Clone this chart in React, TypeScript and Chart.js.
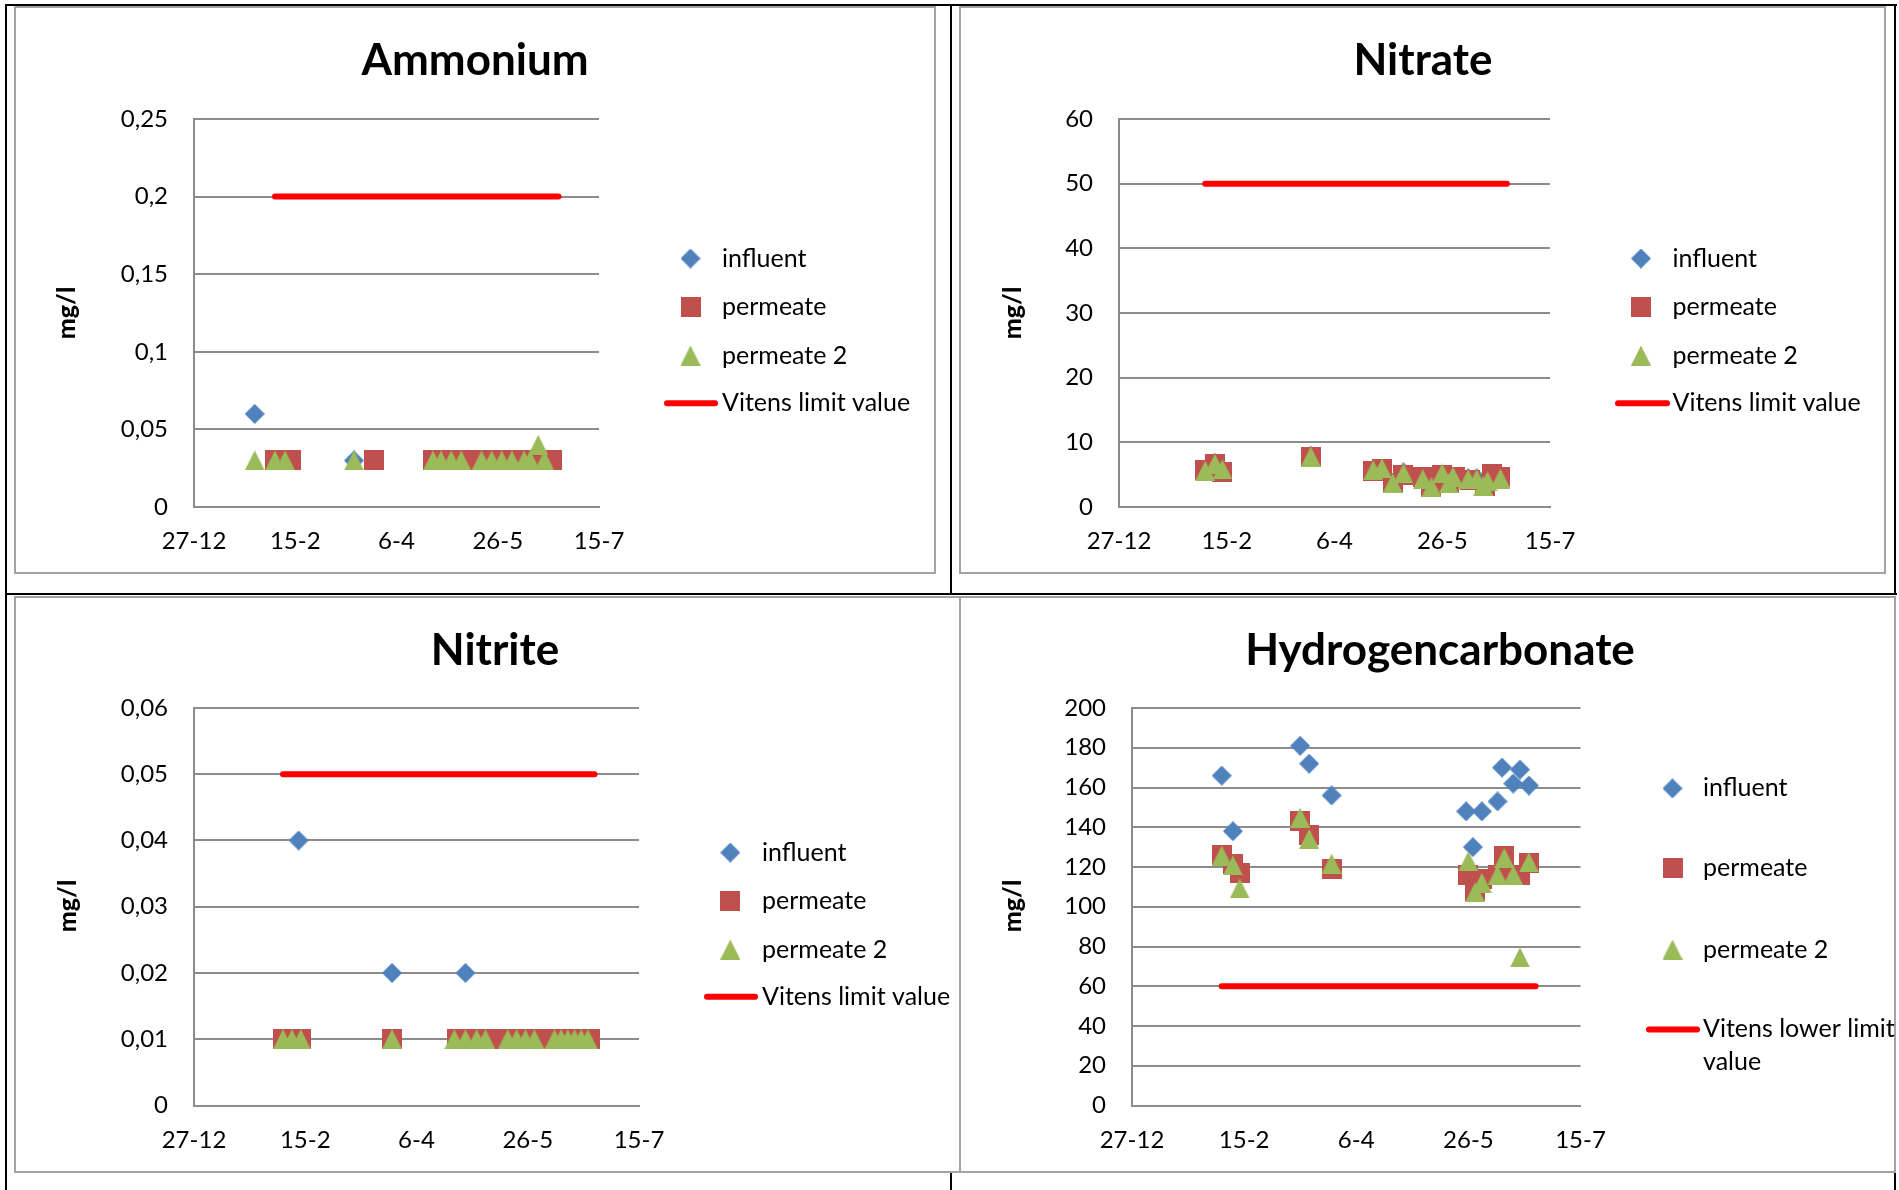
import React, { useEffect, useRef } from 'react';
import { Chart, registerables } from 'chart.js';

Chart.register(...registerables);

// ---------- shared axis data (x = days since 27-12) ----------
const xTickValues = [0, 50, 100, 150, 200];
const xTickLabels = ['27-12', '15-2', '6-4', '26-5', '15-7'];
const seriesNames = ['influent', 'permeate', 'permeate 2'];

// ---------- Ammonium ----------
const ammoniumYTicks = [0, 0.05, 0.1, 0.15, 0.2, 0.25];
const ammoniumYLabels = ['0', '0,05', '0,1', '0,15', '0,2', '0,25'];
const ammoniumInfluentDays = [30, 79];
const ammoniumInfluent = [0.06, 0.03];
const ammoniumPermeateDays = [40, 48, 89, 118, 122, 127, 132, 137, 142, 147, 152, 157, 163, 166, 170, 173, 177];
const ammoniumPermeate = [0.03, 0.03, 0.03, 0.03, 0.03, 0.03, 0.03, 0.03, 0.03, 0.03, 0.03, 0.03, 0.03, 0.03, 0.03, 0.03, 0.03];
const ammoniumPermeate2Days = [30, 40, 45, 79, 118, 122, 127, 132, 142, 147, 152, 157, 163, 166, 170, 173];
const ammoniumPermeate2 = [0.03, 0.03, 0.03, 0.03, 0.03, 0.03, 0.03, 0.03, 0.03, 0.03, 0.03, 0.03, 0.03, 0.03, 0.04, 0.03];
const ammoniumLimitDays = [40, 180];
const ammoniumLimit = [0.2, 0.2];

// ---------- Nitrate ----------
const nitrateYTicks = [0, 10, 20, 30, 40, 50, 60];
const nitrateYLabels = ['0', '10', '20', '30', '40', '50', '60'];
const nitrateInfluentDays = [44.5, 89, 118, 132, 162, 166];
const nitrateInfluent = [6.85, 7.95, 5.85, 5.35, 4.45, 4.45];
const nitratePermeateDays = [40, 44.5, 48, 89, 118, 122, 127, 132, 141, 145, 150, 153, 156, 163, 170, 173, 177];
const nitratePermeate = [5.7, 6.65, 5.45, 7.75, 5.55, 5.9, 3.65, 4.95, 4.6, 3.1, 4.95, 3.65, 4.6, 4.15, 3.3, 5.1, 4.6];
const nitratePermeate2Days = [40, 44.5, 48, 89, 118, 122, 127, 132, 141, 145, 150, 153, 155, 162, 166, 169, 171, 177];
const nitratePermeate2 = [5.6, 6.7, 5.8, 7.8, 5.7, 6.0, 3.7, 5.2, 4.3, 3.1, 5.2, 3.7, 4.7, 4.3, 4.3, 3.3, 4.0, 4.4];
const nitrateLimitDays = [40, 180];
const nitrateLimit = [50, 50];

// ---------- Nitrite ----------
const nitriteYTicks = [0, 0.01, 0.02, 0.03, 0.04, 0.05, 0.06];
const nitriteYLabels = ['0', '0,01', '0,02', '0,03', '0,04', '0,05', '0,06'];
const nitriteInfluentDays = [47, 89, 122];
const nitriteInfluent = [0.04, 0.02, 0.02];
const nitritePermeateDays = [40, 44, 48, 89, 118, 122, 127, 131, 136, 141, 145, 149, 153, 158, 162, 165, 168, 171, 174, 178];
const nitritePermeate = [0.01, 0.01, 0.01, 0.01, 0.01, 0.01, 0.01, 0.01, 0.01, 0.01, 0.01, 0.01, 0.01, 0.01, 0.01, 0.01, 0.01, 0.01, 0.01, 0.01];
const nitritePermeate2Days = [40, 44, 48, 89, 117, 122, 127, 131, 141, 145, 149, 153, 162, 165, 168, 171, 174, 177];
const nitritePermeate2 = [0.01, 0.01, 0.01, 0.01, 0.01, 0.01, 0.01, 0.01, 0.01, 0.01, 0.01, 0.01, 0.01, 0.01, 0.01, 0.01, 0.01, 0.01];
const nitriteLimitDays = [40, 180];
const nitriteLimit = [0.05, 0.05];

// ---------- Hydrogencarbonate ----------
const hco3YTicks = [0, 20, 40, 60, 80, 100, 120, 140, 160, 180, 200];
const hco3YLabels = ['0', '20', '40', '60', '80', '100', '120', '140', '160', '180', '200'];
const hco3InfluentDays = [40, 45, 75, 79, 89, 149, 152, 156, 163, 165, 170, 173, 177];
const hco3Influent = [166, 138, 181, 172, 156, 148, 130, 148, 153, 170, 162, 169, 161];
const hco3PermeateDays = [40, 45, 48, 75, 79, 89, 150, 153, 156, 163, 166, 170, 173, 177];
const hco3Permeate = [126, 121.5, 117, 143, 136, 119, 116, 108, 114, 116, 125.5, 116, 116, 122];
const hco3Permeate2Days = [40, 45, 48, 75, 79, 89, 150, 153, 156, 163, 166, 170, 173, 177];
const hco3Permeate2 = [125.7, 120.8, 109.2, 144.8, 134.2, 121.7, 122.9, 107.3, 112, 115.9, 124.6, 115.9, 74.5, 122.3];
const hco3LimitDays = [40, 180];
const hco3Limit = [60, 60];

// ---------- styles ----------
const COLORS = ['#4F81BD', '#C0504D', '#9BBB59'];
const LIMIT_COLOR = '#FF0000';
const GRID = '#8C8C8C';
const BOX_BORDER = '#A3A3A3';
const FONT = 'Lato';
const Y_AXIS_W = 100;
const X_AXIS_H = 60;

function makeMarker(kind: string, color: string): HTMLCanvasElement {
  const c = document.createElement('canvas');
  c.width = 20;
  c.height = 20;
  const ctx = c.getContext('2d') as CanvasRenderingContext2D;
  ctx.fillStyle = color;
  ctx.beginPath();
  if (kind === 'diamond') {
    ctx.moveTo(10, 0); ctx.lineTo(20, 10); ctx.lineTo(10, 20); ctx.lineTo(0, 10);
  } else if (kind === 'square') {
    ctx.rect(0, 0, 20, 20);
  } else {
    ctx.moveTo(10, 0); ctx.lineTo(20, 20); ctx.lineTo(0, 20);
  }
  ctx.closePath();
  ctx.fill();
  return c;
}

const markers = [makeMarker('diamond', COLORS[0]), makeMarker('square', COLORS[1]), makeMarker('triangle', COLORS[2])];

function pts(days: number[], vals: number[]) {
  return days.map((d, i) => ({ x: d, y: vals[i] }));
}

type Panel = {
  box: { left: number; top: number; width: number; height: number };
  plot: { left: number; top: number; right: number; bottom: number };
  title: string; titleX: number; titleY: number;
  yTitleX: number; yTitleY: number;
  yMax: number; yTicks: number[]; yLabels: string[];
  series: { days: number[]; vals: number[] }[];
  limit: { days: number[]; vals: number[] };
  limitLabel: string[];
  legend: { markerX: number; textX: number; lineX1: number; lineX2: number; rows: number[]; lineGap: number };
};

const panels: Panel[] = [
  {
    box: { left: 14, top: 6, width: 922, height: 568 },
    plot: { left: 194, top: 119, right: 599, bottom: 507 },
    title: 'Ammonium', titleX: 475, titleY: 75,
    yTitleX: 67, yTitleY: 313,
    yMax: 0.25, yTicks: ammoniumYTicks, yLabels: ammoniumYLabels,
    series: [
      { days: ammoniumInfluentDays, vals: ammoniumInfluent },
      { days: ammoniumPermeateDays, vals: ammoniumPermeate },
      { days: ammoniumPermeate2Days, vals: ammoniumPermeate2 },
    ],
    limit: { days: ammoniumLimitDays, vals: ammoniumLimit },
    limitLabel: ['Vitens limit value'],
    legend: { markerX: 690.5, textX: 722, lineX1: 667, lineX2: 715, rows: [258.5, 307, 355.5, 403.3], lineGap: 32 },
  },
  {
    box: { left: 959, top: 6, width: 927, height: 568 },
    plot: { left: 1119, top: 119, right: 1550, bottom: 507 },
    title: 'Nitrate', titleX: 1423, titleY: 75,
    yTitleX: 1013, yTitleY: 313,
    yMax: 60, yTicks: nitrateYTicks, yLabels: nitrateYLabels,
    series: [
      { days: nitrateInfluentDays, vals: nitrateInfluent },
      { days: nitratePermeateDays, vals: nitratePermeate },
      { days: nitratePermeate2Days, vals: nitratePermeate2 },
    ],
    limit: { days: nitrateLimitDays, vals: nitrateLimit },
    limitLabel: ['Vitens limit value'],
    legend: { markerX: 1641, textX: 1672.5, lineX1: 1618, lineX2: 1667, rows: [258.5, 307, 355.5, 403.3], lineGap: 32 },
  },
  {
    box: { left: 14, top: 596, width: 947, height: 577 },
    plot: { left: 194, top: 708, right: 639, bottom: 1105.5 },
    title: 'Nitrite', titleX: 495, titleY: 665,
    yTitleX: 67.5, yTitleY: 906,
    yMax: 0.06, yTicks: nitriteYTicks, yLabels: nitriteYLabels,
    series: [
      { days: nitriteInfluentDays, vals: nitriteInfluent },
      { days: nitritePermeateDays, vals: nitritePermeate },
      { days: nitritePermeate2Days, vals: nitritePermeate2 },
    ],
    limit: { days: nitriteLimitDays, vals: nitriteLimit },
    limitLabel: ['Vitens limit value'],
    legend: { markerX: 730.3, textX: 762, lineX1: 707, lineX2: 755, rows: [852.6, 901, 949.5, 996.7], lineGap: 32 },
  },
  {
    box: { left: 959, top: 596, width: 937, height: 577 },
    plot: { left: 1132, top: 708, right: 1580.5, bottom: 1105.5 },
    title: 'Hydrogencarbonate', titleX: 1440, titleY: 665,
    yTitleX: 1013, yTitleY: 906,
    yMax: 200, yTicks: hco3YTicks, yLabels: hco3YLabels,
    series: [
      { days: hco3InfluentDays, vals: hco3Influent },
      { days: hco3PermeateDays, vals: hco3Permeate },
      { days: hco3Permeate2Days, vals: hco3Permeate2 },
    ],
    limit: { days: hco3LimitDays, vals: hco3Limit },
    limitLabel: ['Vitens lower limit', 'value'],
    legend: { markerX: 1672.5, textX: 1703, lineX1: 1649, lineX2: 1697, rows: [788.4, 868.4, 949.5, 1029.4], lineGap: 32.5 },
  },
];

function makeDeco(p: Panel) {
  return {
    id: 'deco',
    afterDraw(chart: any) {
      const ctx: CanvasRenderingContext2D = chart.ctx;
      const ox = p.box.left;
      const oy = p.box.top;
      ctx.save();
      ctx.fillStyle = '#000';
      // title
      ctx.font = `bold 44px ${FONT}`;
      ctx.textAlign = 'center';
      ctx.textBaseline = 'alphabetic';
      ctx.fillText(p.title, p.titleX - ox, p.titleY - oy);
      // y axis title
      ctx.save();
      ctx.translate(p.yTitleX - ox, p.yTitleY - oy);
      ctx.rotate(-Math.PI / 2);
      ctx.font = `900 25px ${FONT}`;
      ctx.textAlign = 'center';
      ctx.textBaseline = 'middle';
      ctx.fillText('mg/l', 0, 0);
      ctx.restore();
      // legend
      const L = p.legend;
      ctx.font = `25px ${FONT}`;
      ctx.textAlign = 'left';
      ctx.textBaseline = 'middle';
      for (let i = 0; i < 3; i++) {
        const y = L.rows[i] - oy;
        const m = markers[i];
        ctx.drawImage(m, L.markerX - ox - m.width / 2, y - m.height / 2);
        ctx.fillStyle = '#000';
        ctx.fillText(seriesNames[i], L.textX - ox, y);
      }
      const ly = L.rows[3] - oy;
      ctx.strokeStyle = LIMIT_COLOR;
      ctx.lineWidth = 6;
      ctx.lineCap = 'round';
      ctx.beginPath();
      ctx.moveTo(L.lineX1 - ox, ly);
      ctx.lineTo(L.lineX2 - ox, ly);
      ctx.stroke();
      ctx.fillStyle = '#000';
      p.limitLabel.forEach((t, k) => ctx.fillText(t, L.textX - ox, ly + k * L.lineGap));
      ctx.restore();
    },
  };
}

function ChartPanel({ p }: { p: Panel }) {
  const ref = useRef<HTMLCanvasElement>(null);
  useEffect(() => {
    const canvas = ref.current;
    if (!canvas) return;
    const padLeft = p.plot.left - p.box.left - Y_AXIS_W;
    const padTop = p.plot.top - p.box.top;
    const padRight = p.box.left + p.box.width - p.plot.right;
    const padBottom = p.box.top + p.box.height - p.plot.bottom - X_AXIS_H;
    const datasets: any[] = p.series.map((s, i) => ({
      label: seriesNames[i],
      data: pts(s.days, s.vals),
      pointStyle: markers[i],
      pointRadius: 10,
      pointHoverRadius: 10,
      backgroundColor: COLORS[i],
      borderColor: COLORS[i],
      showLine: false,
      order: 4 - i,
    }));
    datasets.push({
      label: p.limitLabel.join(' '),
      data: pts(p.limit.days, p.limit.vals),
      showLine: true,
      pointRadius: 0,
      pointHoverRadius: 0,
      borderColor: LIMIT_COLOR,
      backgroundColor: LIMIT_COLOR,
      borderWidth: 6,
      borderCapStyle: 'round',
      order: 1,
    });
    const chart = new Chart(canvas, {
      type: 'scatter',
      data: { datasets },
      plugins: [makeDeco(p)],
      options: {
        responsive: false,
        animation: false,
        events: [],
        devicePixelRatio: 1,
        layout: { padding: { left: padLeft, top: padTop, right: padRight, bottom: padBottom } },
        plugins: { legend: { display: false }, tooltip: { enabled: false }, title: { display: false } },
        scales: {
          x: {
            type: 'linear',
            min: 0,
            max: 200,
            afterBuildTicks: (s: any) => { s.ticks = xTickValues.map((v) => ({ value: v })); },
            afterFit: (s: any) => { s.height = X_AXIS_H; },
            grid: { display: false, drawTicks: false },
            border: { display: true, color: GRID, width: 2 },
            ticks: {
              padding: 20,
              color: '#000',
              autoSkip: false,
              maxRotation: 0,
              font: { family: FONT, size: 24 },
              callback: (_v: any, i: number) => xTickLabels[i],
            },
          },
          y: {
            type: 'linear',
            min: 0,
            max: p.yMax,
            afterBuildTicks: (s: any) => { s.ticks = p.yTicks.map((v) => ({ value: v })); },
            afterFit: (s: any) => { s.width = Y_AXIS_W; },
            grid: { color: GRID, lineWidth: 2, drawTicks: false },
            border: { display: true, color: GRID, width: 2 },
            ticks: {
              padding: 26,
              color: '#000',
              autoSkip: false,
              font: { family: FONT, size: 24 },
              callback: (_v: any, i: number) => p.yLabels[i],
            },
          },
        },
      } as any,
    });
    return () => chart.destroy();
  }, [p]);
  return (
    <>
      <div
        style={{
          position: 'absolute',
          left: p.box.left,
          top: p.box.top,
          width: p.box.width,
          height: p.box.height,
          border: `2px solid ${BOX_BORDER}`,
          boxSizing: 'border-box',
        }}
      />
      <canvas
        ref={ref}
        width={p.box.width}
        height={p.box.height}
        style={{ position: 'absolute', left: p.box.left, top: p.box.top, width: p.box.width, height: p.box.height }}
      />
    </>
  );
}

function Line({ x, y, w, h }: { x: number; y: number; w: number; h: number }) {
  return <div style={{ position: 'absolute', left: x, top: y, width: w, height: h, background: '#000' }} />;
}

export default function App() {
  return (
    <div style={{ position: 'absolute', left: 0, top: 0, width: 1899, height: 1190, background: '#fff', overflow: 'hidden' }}>
      {panels.map((p, i) => (
        <ChartPanel key={i} p={p} />
      ))}
      <Line x={5} y={4} w={1892} h={2} />
      <Line x={5} y={4} w={2} h={1186} />
      <Line x={950} y={4} w={2} h={591} />
      <Line x={5} y={593} w={1892} h={2} />
      <Line x={1894} y={4} w={2} h={591} />
      <Line x={950} y={1173} w={2} h={17} />
      <Line x={1894} y={1173} w={2} h={17} />
    </div>
  );
}
